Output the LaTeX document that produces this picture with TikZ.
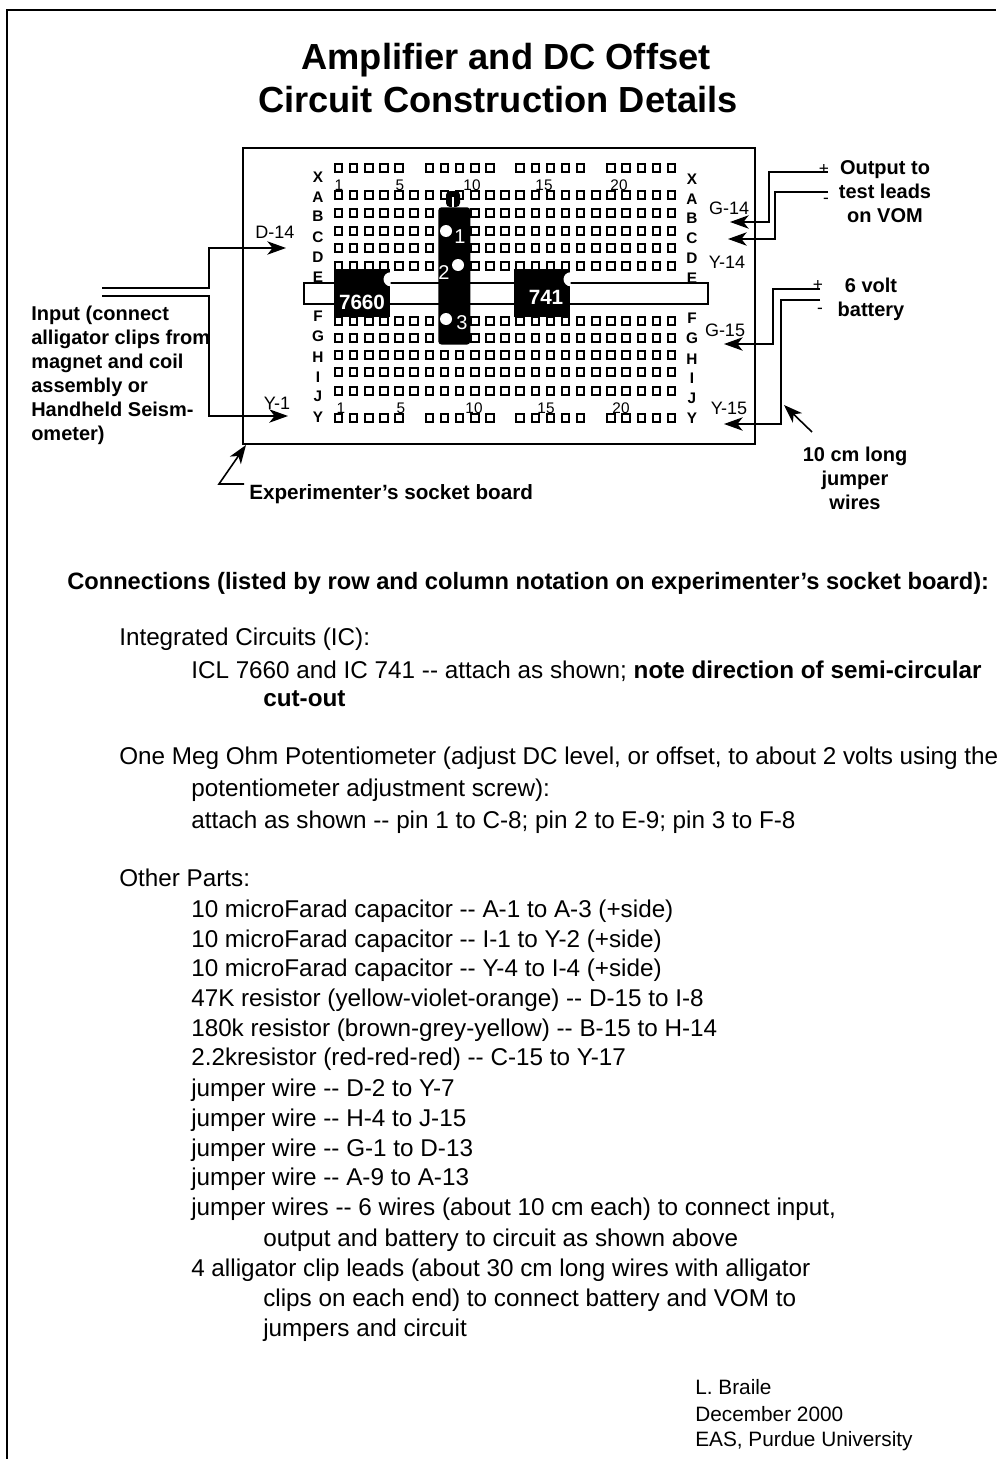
\documentclass[tikz,border=0pt]{standalone}
\usepackage{fontspec}
\setmainfont{Liberation Sans}
\usetikzlibrary{
  arrows.meta,
  calc,
}
\newcommand{\bodysize}{\fontsize{18.2pt}{20pt}\selectfont}
\newcommand{\pinsize}{\fontsize{11.5pt}{13pt}\selectfont}
\newcommand{\wiresize}{\fontsize{13.5pt}{15pt}\selectfont}
\tikzset{
  x=0.75pt,
  y=-0.75pt,
  >={Stealth[length=14pt,width=10pt,inset=4pt]},
  frame/.style={
    line width=1.5pt
  },
  wire/.style={
    line width=1.5pt
  },
  hole/.style={
    draw,
    line width=1.5pt,
    inner sep=0pt,
    outer sep=0pt,
    minimum width=5.6pt,
    minimum height=6.2pt,
    rectangle
  },
  row letter/.style={
    font=\fontsize{11.5pt}{13pt}\selectfont\bfseries,
    inner sep=0pt
  },
  pin label/.style={
    font=\pinsize,
    inner sep=0pt
  },
  wire label/.style={
    font=\wiresize,
    inner sep=0pt
  },
  chip/.style={
    fill=black,
    inner sep=0pt
  },
  chip label/.style={
    font=\fontsize{15.5pt}{17pt}\selectfont\bfseries,
    text=white,
    inner sep=0pt
  },
  pot label/.style={
    font=\fontsize{15pt}{17pt}\selectfont,
    text=white,
    inner sep=0pt
  },
  side label/.style={
    font=\fontsize{15pt}{18pt}\selectfont\bfseries,
    inner sep=0pt
  },
  title/.style={
    font=\fontsize{27.2pt}{32pt}\selectfont\bfseries,
    anchor=base,
    inner sep=0pt
  },
  body/.style={
    font=\bodysize,
    anchor=base west,
    inner sep=0pt
  },
  body bold/.style={
    body,
    font=\bodysize\bfseries
  },
  credit/.style={
    body,
    font=\fontsize{15.6pt}{18pt}\selectfont
  },
  sign/.style={
    font=\fontsize{13pt}{15pt}\selectfont,
    inner sep=0pt
  }
}

\begin{document}
\begin{tikzpicture}
\useasboundingbox (0,0) rectangle (996,1459);
\draw[frame] (7,1459) -- (7,10) -- (996,10);
% Title
\node[title] (title1) at (506,70) {Amplifier and DC Offset};
\node[title] (title2) at (498,113) {Circuit Construction Details};
% Board and its holes
\draw[frame] (243,148) rectangle (755,444);
\foreach \col in {1,...,5,7,8,...,11,13,14,...,17,19,20,...,23} {
  \node[hole] (x\col) at ({338.5+15.14*(\col-1)},168) {};
  \node[hole] (y\col) at ({338.5+15.14*(\col-1)},418) {};
}
\foreach \rowname/\rowy in {a/195,b/213,c/231,d/248,e/266,f/321,g/338,h/355,i/372,j/391} {
  \foreach \col in {1,...,23} {
    \node[hole] (\rowname\col) at ({338.5+15.14*(\col-1)},\rowy) {};
  }
}
\foreach \lab/\lefty/\righty in {X/177/179,A/197/199,B/216/218,C/237/238,D/257/258,E/277/278,F/316/318,G/336/338,H/357/359,I/377/378,J/396/398,Y/417/418} {
  \node[row letter] (left\lab) at (318,\lefty) {\lab};
  \node[row letter] (right\lab) at (692,\righty) {\lab};
}
\foreach \lab/\topx/\botx in {1/339/341,5/400/401,10/472/474,15/544/546,20/619/621} {
  \node[pin label] (top\lab) at (\topx,185) {\lab};
  \node[pin label] (bot\lab) at (\botx,408) {\lab};
}
% Centre strip
\node[draw,line width=1.2pt,fill=white,inner sep=0pt,minimum width=303pt,minimum height=16pt,anchor=north west] (strip) at (303,282) {};
% ICs
\node[chip,minimum width=42pt,minimum height=36pt,anchor=north west] (ic7660) at (334,269) {};
\node[chip,minimum width=42pt,minimum height=36pt,anchor=north west] (ic741) at (514,269) {};
\fill[white] (ic7660.east) ++(0,-7) arc (90:270:7);
\fill[white] (ic741.east) ++(0,-7) arc (90:270:7);
\node[chip label] (lab7660) at (362,302) {7660};
\node[chip label] (lab741) at (546,297) {741};
% Potentiometer
\fill[rounded corners=3pt] (446,207) -- (446,191) -- (460,191) -- (460,207) -- cycle;
\draw[white,line width=1.5pt] (453,197) -- (453,207);
\node[chip,rounded corners=2.5pt,minimum width=24pt,minimum height=103pt,anchor=north west] (pot) at (438,207) {};
\fill[white] (446,231) circle (6);
\fill[white] (458,265) circle (6);
\fill[white] (446,319) circle (6);
\node[pot label] (pin1) at (460,237) {1};
\node[pot label] (pin2) at (444,273) {2};
\node[pot label] (pin3) at (462,323) {3};
% Input wires
\coordinate (in1) at (102,288);
\coordinate (in2) at (102,296);
\coordinate (d14) at (286,248);
\coordinate (y1) at (288,416);
\draw[wire,->] (in1) -- (209,288) |- (d14);
\draw[wire,->] (in2) -- (209,296) |- (y1);
\node[wire label] (d14lab) at (275,232) {D-14};
\node[wire label] (y1lab) at (277,403) {Y-1};
% Output wires
\coordinate (outp) at (828,172);
\coordinate (outm) at (828,192);
\coordinate (g14) at (730,222);
\coordinate (y14) at (728,239);
\draw[wire,->] (outp) -- (769,172) |- (g14);
\draw[wire,->] (outm) -- (775,192) |- (y14);
\node[sign] (outplus) at (824,169) {+};
\node[sign] (outminus) at (826,201) {-};
\node[wire label] (g14lab) at (729,208) {G-14};
\node[wire label] (y14lab) at (727,262) {Y-14};
% Battery wires
\coordinate (batp) at (820,289);
\coordinate (batm) at (820,300);
\coordinate (g15) at (724,344);
\coordinate (y15) at (724,424);
\draw[wire,->] (batp) -- (773,289) |- (g15);
\draw[wire,->] (batm) -- (781,300) |- (y15);
\node[sign] (batplus) at (818,285) {+};
\node[sign] (batminus) at (820,311) {-};
\node[wire label] (g15lab) at (725,330) {G-15};
\node[wire label] (y15lab) at (729,408) {Y-15};
% Pointers
\coordinate (jumpfrom) at (812,432);
\coordinate (jumpto) at (784,405);
\draw[line width=1.2pt,->] (jumpfrom) -- (jumpto);
\coordinate (sockfrom) at (244,484);
\coordinate (sockto) at (246,445);
\draw[line width=1.2pt,->] (sockfrom) -- (219,484) -- (sockto);
% Side labels
\foreach \lineno/\liney/\linetext in {1/320/{Input (connect},2/344/{alligator clips from},3/368/{magnet and coil},4/392/{assembly or},5/416/{Handheld Seism-},6/440/{ometer)}} {
  \node[side label,anchor=base west] (input\lineno) at (31,\liney) {\linetext};
}
\node[side label,align=center] (outlab) at (885,192) {Output to\\test leads\\on VOM};
\node[side label,align=center] (batlab) at (871,299) {6 volt\\battery};
\node[side label,align=center] (jumplab) at (855,478) {10 cm long\\jumper\\wires};
\node[side label,font=\fontsize{15.5pt}{18pt}\selectfont\bfseries,anchor=base west] (socklab) at (249,499) {Experimenter's socket board};
% Connections list
\node[body bold,font=\fontsize{17.75pt}{20pt}\selectfont\bfseries] (head) at (67,589) {Connections (listed by row and column notation on experimenter's socket board):};
\node[body] (ic) at (119,645) {Integrated Circuits (IC):};
\node[body] (icl) at (191,678) {ICL 7660 and IC 741 -{}- attach as shown; \textbf{note direction of semi-circular}};
\node[body bold] (cutout) at (263,706) {cut-out};
\node[body] (meg) at (119,764) {One Meg Ohm Potentiometer (adjust DC level, or offset, to about 2 volts using the};
\node[body] (screw) at (191,796) {potentiometer adjustment screw):};
\node[body] (attach) at (191,828) {attach as shown -{}- pin 1 to C-8; pin 2 to E-9; pin 3 to F-8};
\node[body] (other) at (119,886) {Other Parts:};
\foreach \lineno/\liney/\linetext in {
  1/917/{10 microFarad capacitor -{}- A-1 to A-3 (+side)},
  2/947/{10 microFarad capacitor -{}- I-1 to Y-2 (+side)},
  3/976/{10 microFarad capacitor -{}- Y-4 to I-4 (+side)},
  4/1006/{47K resistor (yellow-violet-orange) -{}- D-15 to I-8},
  5/1036/{180k resistor (brown-grey-yellow) -{}- B-15 to H-14},
  6/1065/{2.2kresistor (red-red-red) -{}- C-15 to Y-17},
  7/1096/{jumper wire -{}- D-2 to Y-7},
  8/1126/{jumper wire -{}- H-4 to J-15},
  9/1156/{jumper wire -{}- G-1 to D-13},
  10/1185/{jumper wire -{}- A-9 to A-13},
  11/1215/{jumper wires -{}- 6 wires (about 10 cm each) to connect input,},
  12/1276/{4 alligator clip leads (about 30 cm long wires with alligator}} {
  \node[body] (part\lineno) at (191,\liney) {\linetext};
}
\node[body] (cont1) at (263,1246) {output and battery to circuit as shown above};
\node[body] (cont2) at (263,1306) {clips on each end) to connect battery and VOM to};
\node[body] (cont3) at (263,1336) {jumpers and circuit};
% Credits
\node[credit] (name) at (695,1394) {L. Braile};
\node[credit] (date) at (695,1421) {December 2000};
\node[credit] (place) at (695,1446) {EAS, Purdue University};
\end{tikzpicture}
\end{document}
